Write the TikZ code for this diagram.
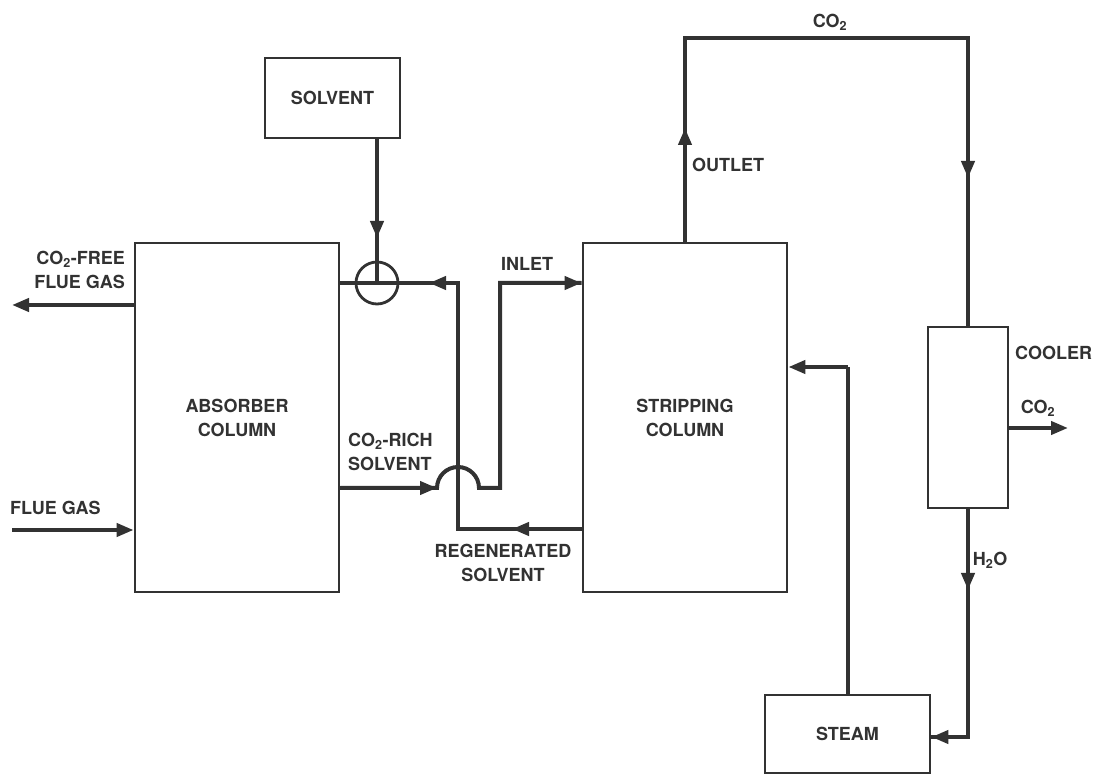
\documentclass[tikz,border=0pt]{standalone}
\usepackage{fontspec}
\setmainfont{TeX Gyre Heros}
\usetikzlibrary{arrows.meta}
\definecolor{ink}{RGB}{50,50,50}
\begin{document}
\begin{tikzpicture}[x=1pt,y=-1pt,
  box/.style={draw=ink, line width=2.8pt, inner sep=0pt, text=ink,
    font=\bfseries\fontsize{18}{24}\selectfont, align=center},
  flow/.style={draw=ink, line width=4pt},
  arr/.style={flow, -{Triangle[length=17pt,width=13pt]}},
  lab/.style={font=\bfseries\fontsize{18}{24}\selectfont, text=ink, inner sep=0pt}]
\fill[white] (0,0) rectangle (1096,775);
\useasboundingbox (0,0) rectangle (1096,775);

% boxes
\node[box, minimum width=135pt, minimum height=80pt] (solvent) at (332.5,98) {SOLVENT};
\node[box, minimum width=204pt, minimum height=349pt] (absorber) at (237,417.5) {ABSORBER\\COLUMN};
\node[box, minimum width=204pt, minimum height=349pt] (stripping) at (685,417.5) {STRIPPING\\COLUMN};
\node[box, minimum width=80pt, minimum height=181pt] (cooler) at (968,417.5) {};
\node[box, minimum width=165pt, minimum height=78pt] (steam) at (847.5,734) {STEAM};
\node[draw=ink, line width=2.8pt, circle, minimum size=42pt, inner sep=0pt] (mix) at (377,283) {};

% coordinates
\coordinate (mixR) at (458,283);
\coordinate (regB) at (458,529);
\coordinate (humpL) at (437,488);
\coordinate (inB) at (500,488);
\coordinate (inT) at (500,283);
\coordinate (otop) at (685,38);
\coordinate (co2end) at (1068,428);
\coordinate (hb) at (968,737);
\coordinate (st) at (847.5,367);
\coordinate (fg) at (12,530);
\coordinate (free) at (12,305);

% solvent feed
\draw[flow] (solvent.south -| mix) -- (mix.center);
\draw[arr] (solvent.south -| mix) -- (377,238);

% regenerated solvent
\draw[flow] (stripping.west |- regB) -- (regB) -- (mixR) -- (absorber.east |- mixR);
\draw[arr] (stripping.west |- regB) -- (512,529);
\draw[arr] (mixR) -- (429,283);

% CO2-rich solvent
\draw[flow] (absorber.east |- humpL) -- (humpL) arc[start angle=180,end angle=0,radius=21pt] -- (inB) -- (inT) -- (stripping.west |- inT);
\draw[arr] (absorber.east |- humpL) -- (humpL);
\draw[arr] (inT) -- (stripping.west |- inT);

% outlet to cooler
\draw[flow] (stripping.north) -- (otop) -- (cooler.north |- otop) -- (cooler.north);
\draw[arr] (stripping.north) -- (685,128);
\draw[arr] (cooler.north |- otop) -- (968,178);

% CO2 product
\draw[arr] (cooler.east |- co2end) -- (co2end);

% water to steam
\draw[flow] (cooler.south) -- (hb) -- (steam.east |- hb);
\draw[arr] (hb) -- (steam.east |- hb);
\draw[arr] (cooler.south) -- (968,590);

% steam to stripper
\draw[flow] (steam.north) -- (st);
\draw[arr] (st) -- (stripping.east |- st);

% flue gas
\draw[arr] (fg) -- (absorber.west |- fg);
\draw[arr] (absorber.west |- free) -- (free);

% labels
\node[lab, align=right, anchor=east] (lfree) at (125,270) {CO\textsubscript{2}-FREE\\FLUE GAS};
\node[lab, anchor=west] (lflue) at (10,508) {FLUE GAS};
\node[lab, align=left, anchor=west] (lrich) at (348,452) {CO\textsubscript{2}-RICH\\SOLVENT};
\node[lab] (linlet) at (527,264) {INLET};
\node[lab, align=center] (lregen) at (503,563) {REGENERATED\\SOLVENT};
\node[lab, anchor=west] (loutlet) at (692,165) {OUTLET};
\node[lab] (lco2top) at (830,22) {CO\textsubscript{2}};
\node[lab, anchor=west] (lcooler) at (1015,353) {COOLER};
\node[lab] (lco2out) at (1038,408) {CO\textsubscript{2}};
\node[lab] (lh2o) at (990,560) {H\textsubscript{2}O};
\end{tikzpicture}
\end{document}
